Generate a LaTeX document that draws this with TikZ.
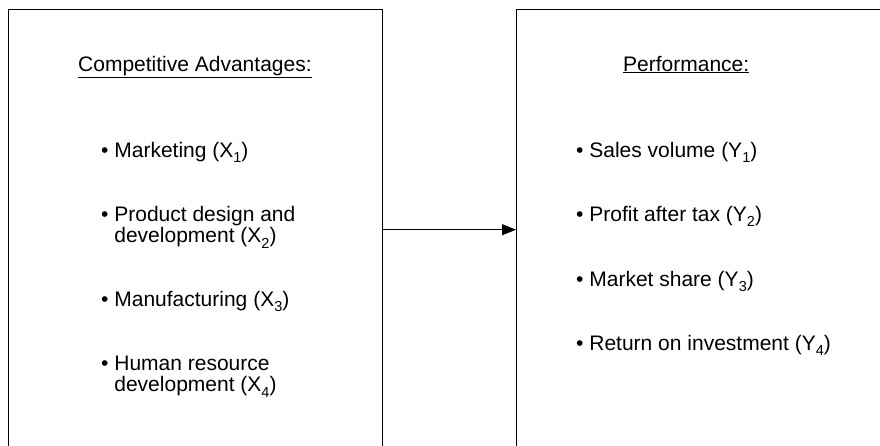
\documentclass[tikz,border=0pt]{standalone}
\usepackage{fontspec}
\setmainfont{Liberation Sans}
\usetikzlibrary{arrows.meta}

\newcommand{\lowix}[1]{\raisebox{-5.5pt}{\fontsize{14.5}{14.5}\selectfont #1}}

\begin{document}
\begin{tikzpicture}[x=1pt, y=-1pt,
  panel/.style={draw, line width=1.4pt, minimum width=374pt, minimum height=440pt, anchor=north west, inner sep=0pt},
  txt/.style={anchor=base west, inner sep=0pt, font=\fontsize{21}{21}\selectfont},
  link/.style={line width=0.9pt, -{Triangle[length=14pt, width=11pt]}}]
\useasboundingbox (0,0) rectangle (880,445);
\clip (0,0) rectangle (880,445);

% the two boxes, open at the bottom of the page
\node[panel] (adv) at (8,9) {};
\node[panel] (perf) at (516,9) {};

\node[txt] (advtitle) at (78,71) {\underline{Competitive Advantages:}};
\node[txt] (perftitle) at (623,71) {\underline{Performance:}};

% left list
\node[txt] (x1) at (101,157) {• Marketing (X\lowix{1})};
\node[txt] (x2) at (101,221) {\begin{tabular}[t]{@{}l@{}}• Product design and\\\phantom{• }development (X\lowix{2})\end{tabular}};
\node[txt] (x3) at (101,306) {• Manufacturing (X\lowix{3})};
\node[txt] (x4) at (101,370) {\begin{tabular}[t]{@{}l@{}}• Human resource\\\phantom{• }development (X\lowix{4})\end{tabular}};

% right list
\node[txt] (y1) at (576,157) {• Sales volume (Y\lowix{1})};
\node[txt] (y2) at (576,221) {• Profit after tax (Y\lowix{2})};
\node[txt] (y3) at (576,286) {• Market share (Y\lowix{3})};
\node[txt] (y4) at (576,350) {• Return on investment (Y\lowix{4})};

\draw[link] (adv) -- (perf);
\end{tikzpicture}
\end{document}
